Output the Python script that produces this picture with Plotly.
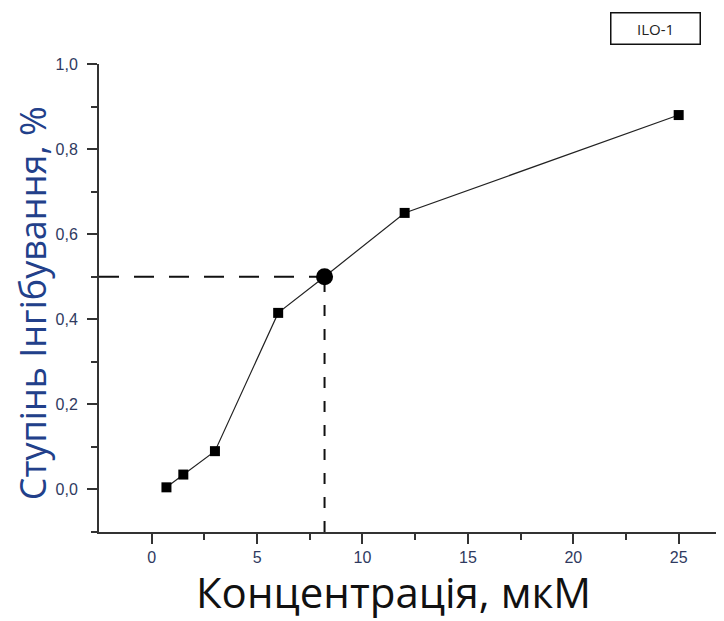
import plotly.graph_objects as go

# Data
conc = [0.7, 1.5, 3.0, 6.0, 8.2, 12.0, 25.0]
inhib = [0.005, 0.035, 0.09, 0.415, 0.5, 0.65, 0.88]
ic50_x = 8.2
ic50_y = 0.5
x_range = [-2.5, 27.15]
y_range = [-0.1, 1.0]
x_ticks = [0, 5, 10, 15, 20, 25]
y_ticks = [0.0, 0.2, 0.4, 0.6, 0.8, 1.0]
series_name = "ILO-1"
x_title = "Концентрація, мкМ"
y_title = "Ступінь Інгібування, %"

sq_x = [c for c, v in zip(conc, inhib) if c != ic50_x]
sq_y = [v for c, v in zip(conc, inhib) if c != ic50_x]

fig = go.Figure()

# Dashed guide lines
fig.add_trace(go.Scatter(x=[x_range[0], ic50_x], y=[ic50_y, ic50_y], mode="lines",
                         line=dict(color="#111", width=2, dash="20px,15px"),
                         showlegend=False, hoverinfo="skip"))
fig.add_trace(go.Scatter(x=[ic50_x, ic50_x], y=[y_range[0], ic50_y], mode="lines",
                         line=dict(color="#111", width=2, dash="11px,13px"),
                         showlegend=False, hoverinfo="skip"))

# Connecting line
fig.add_trace(go.Scatter(x=conc, y=inhib, mode="lines",
                         line=dict(color="#222", width=1.2),
                         showlegend=False))
# Square markers
fig.add_trace(go.Scatter(x=sq_x, y=sq_y, mode="markers",
                         marker=dict(symbol="square", size=10, color="#000"),
                         showlegend=False))
# IC50 point
fig.add_trace(go.Scatter(x=[ic50_x], y=[ic50_y], mode="markers",
                         marker=dict(symbol="circle", size=17, color="#000"),
                         showlegend=False))

axis_common = dict(
    showgrid=False, zeroline=False, showline=True, linecolor="#333", linewidth=2,
    ticks="outside", ticklen=10, tickwidth=2, tickcolor="#333", automargin=False,
    tickfont=dict(family="Liberation Sans, Arial", size=16, color="#2f3a5f"),
)

fig.update_layout(
    width=724, height=621,
    margin=dict(l=91, r=8, t=56, b=97),
    paper_bgcolor="white", plot_bgcolor="white",
    separators=", ",
    showlegend=False,
    xaxis=dict(range=x_range, tickvals=x_ticks, **axis_common,
               minor=dict(tickvals=[2.5, 7.5, 12.5, 17.5, 22.5], ticklen=6, tickwidth=2,
                          tickcolor="#333", ticks="outside")),
    yaxis=dict(range=y_range, tickvals=y_ticks, tickformat=".1f", **axis_common,
               ticklabelstandoff=6,
               minor=dict(tickvals=[-0.1, 0.1, 0.3, 0.5, 0.7, 0.9], ticklen=6, tickwidth=2,
                          tickcolor="#333", ticks="outside")),
    annotations=[
        dict(text=series_name, xref="paper", yref="paper", x=0.8904, y=1.075,
             xanchor="center", yanchor="middle", showarrow=False,
             font=dict(family="Open Sans", size=15, color="#222"),
             bordercolor="#111", borderwidth=1.5, borderpad=4, width=80, height=22,
             bgcolor="white"),
        dict(text=y_title, xref="paper", yref="paper", x=-0.1072, y=0.489,
             xanchor="center", yanchor="middle", showarrow=False, textangle=-90,
             font=dict(family="Open Sans", size=36, color="#22408a")),
        dict(text=x_title, xref="paper", yref="paper", x=0.4704, y=-0.193,
             xanchor="center", yanchor="bottom", showarrow=False,
             font=dict(family="Open Sans", size=42, color="#111")),
    ],
)

fig.write_html("out.html")
